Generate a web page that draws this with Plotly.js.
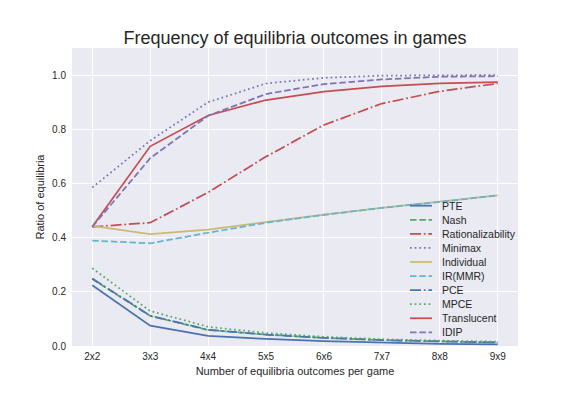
<!DOCTYPE html>
<html>
<head>
<meta charset="utf-8">
<script src="https://cdn.plot.ly/plotly-3.0.1.min.js"></script>
<style>html,body{margin:0;padding:0;background:#fff;}#chart{width:576px;height:396px;}</style>
</head>
<body>
<div id="chart"></div>
<script>
const categories = ["2x2","3x3","4x4","5x5","6x6","7x7","8x8","9x9"];
const seriesNames = ["PTE","Nash","Rationalizability","Minimax","Individual","IR(MMR)","PCE","MPCE","Translucent","IDIP"];
const PTE = [0.224,0.075,0.037,0.026,0.018,0.012,0.008,0.006];
const Nash = [0.247,0.111,0.059,0.042,0.030,0.022,0.017,0.013];
const Rationalizability = [0.440,0.455,0.567,0.699,0.816,0.895,0.940,0.969];
const Minimax = [0.585,0.758,0.900,0.969,0.990,0.998,0.999,1.000];
const Individual = [0.443,0.413,0.430,0.458,0.485,0.510,0.532,0.556];
const IRMMR = [0.389,0.379,0.418,0.455,0.484,0.510,0.532,0.556];
const PCE = [0.249,0.112,0.060,0.042,0.030,0.022,0.017,0.013];
const MPCE = [0.287,0.129,0.071,0.048,0.034,0.025,0.020,0.016];
const Translucent = [0.440,0.737,0.851,0.908,0.939,0.958,0.969,0.974];
const IDIP = [0.440,0.693,0.850,0.930,0.967,0.984,0.994,0.996];
const yTickVals = [0,0.2,0.4,0.6,0.8,1.0];

const allValues = [PTE,Nash,Rationalizability,Minimax,Individual,IRMMR,PCE,MPCE,Translucent,IDIP];
const colors = ["#4C72B0","#55A868","#C44E52","#8172B2","#CCB974","#64B5CD","#4C72B0","#55A868","#C44E52","#8172B2"];
const DASH = "6.5px,2.8px", DOT = "1.75px,2.9px", DASHDOT = "11px,2.8px,1.75px,2.8px";
const dashes = ["solid",DASH,DASHDOT,DOT,"solid",DASH,DASHDOT,DOT,"solid",DASH];

const font = "Liberation Sans, Arial, sans-serif";
const txt = "#262626";

const traces = allValues.map((v,i)=>({
  type:"scatter", mode:"lines", x:categories, y:v, name:seriesNames[i],
  line:{color:colors[i], width:1.75, dash:dashes[i]}, showlegend:false, hoverinfo:"skip"
}));

// custom legend (layout-level)
const L = 72, R = 518, T = 48, B = 346;
const W = R-L, H = B-T;
const shapes = [], annotations = [];
seriesNames.forEach((n,i)=>{
  const yc = 205.7 + 14.07*i;
  const py = (B - yc)/H;
  shapes.push({type:"line", xref:"paper", yref:"paper", x0:(410-L)/W, x1:(432-L)/W, y0:py, y1:py,
    line:{color:colors[i], width:1.75, dash:dashes[i]}});
  annotations.push({xref:"paper", yref:"paper", x:(440-L)/W, y:py, xanchor:"left", yanchor:"middle",
    text:n, showarrow:false, font:{family:font, size:10.5, color:txt}});
});

const layout = {
  width:576, height:396,
  margin:{l:L, r:576-R, t:T, b:396-B, pad:0},
  paper_bgcolor:"#ffffff", plot_bgcolor:"#EAEAF2",
  font:{family:font, color:txt},
  title:{text:"Frequency of equilibria outcomes in games", font:{family:font, size:18, color:txt},
    x:(L+W/2)/576, xanchor:"center", y:1-38/396, yanchor:"middle"},
  xaxis:{type:"category", range:[-0.35,7.35], showgrid:true, gridcolor:"#ffffff", gridwidth:1,
    zeroline:false, showline:false, ticks:"", ticklabelstandoff:3, tickfont:{family:font, size:10, color:txt},
    title:{text:"Number of equilibria outcomes per game", font:{family:font, size:11, color:txt}, standoff:6}},
  yaxis:{range:[0,1.1], tickvals:yTickVals, tickformat:".1f", showgrid:true, gridcolor:"#ffffff", gridwidth:1,
    zeroline:false, showline:false, ticks:"", ticklabelstandoff:5, tickfont:{family:font, size:10, color:txt},
    title:{text:"Ratio of equilibria", font:{family:font, size:11, color:txt}, standoff:5}},
  shapes:shapes, annotations:annotations, showlegend:false
};
Plotly.newPlot("chart", traces, layout, {staticPlot:true, displayModeBar:false});
</script>
</body>
</html>
